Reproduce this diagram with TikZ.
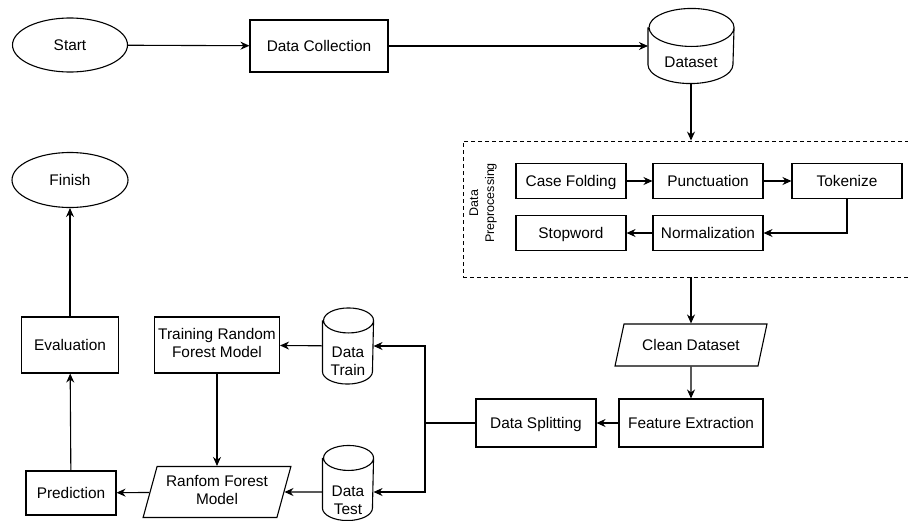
\documentclass[tikz,border=0pt]{standalone}
\usepackage{fontspec}
\setmainfont{Liberation Sans}
\usepackage{tikz}
\usetikzlibrary{shapes.geometric,arrows.meta,positioning,calc,fit}
\newcommand{\fcstrut}{\rule[-3.5pt]{0pt}{18pt}}
\tikzset{
  fc_node/.style = {align=center, inner sep=0pt, text centered, draw=black,
    line width=1.1pt, font=\fontsize{15.4}{18}\selectfont,
    execute at begin node=\fcstrut, execute at end node=\fcstrut},% base of every node
  fc_box/.style = {fc_node, rectangle},% process step
  fc_term/.style = {fc_node, ellipse},% start and finish
  fc_db/.style = {fc_node, rectangle, draw=none,
    execute at begin node={}, execute at end node={}},% data store, outline by \dbshape
  fc_io/.style = {fc_node, trapezium, trapezium left angle=70,
    trapezium right angle=110, trapezium stretches=true},% data in/out
  fc_group/.style = {draw=black, dash pattern=on 4pt off 3pt, line width=0.9pt},% dashed group
  fc_arr/.style = {-{Stealth[length=9pt,width=8pt]}, line width=1.1pt}
}
% text of a data store sits low, in the body below the top cap
\newcommand{\dbtext}[2]{\raisebox{#1}[0pt][0pt]{\begin{tabular}{@{}c@{}}#2\end{tabular}}}
% cylinder outline round a data store node: #1 node, #2 half width, #3 cap half height
\newcommand{\dbshape}[3]{%
  \draw[line width=1.1pt] ([yshift=-#3]#1.north west) -- ([yshift=#3]#1.south west)
    arc[start angle=180, end angle=360, x radius=#2, y radius=#3]
    -- ([yshift=-#3]#1.north east)
    arc[start angle=0, end angle=180, x radius=#2, y radius=#3]
    arc[start angle=180, end angle=360, x radius=#2, y radius=#3];}

\begin{document}
\begin{tikzpicture}[x=1pt, y=-1pt]
\useasboundingbox (0,0) rectangle (908,520);

% top row
\node[fc_term, minimum width=115pt, minimum height=54pt] (start) at (70,45) {Start};
\node[fc_box, minimum width=138pt, minimum height=52pt] (collect) at (319,46) {Data Collection};
\node[fc_db, minimum width=85pt, minimum height=74pt] (dataset) at (691,46) {\dbtext{-16pt}{Dataset}};
\dbshape{dataset}{42.5pt}{19pt}

% preprocessing group
\node[fc_group, minimum width=449pt, minimum height=136pt] (prep) at (687.5,209) {};
\node[rotate=90, align=center, font=\fontsize{12.5}{16}\selectfont] (preplbl) at (483,203) {Data\\Preprocessing};
\node[fc_box, minimum width=110pt, minimum height=35pt] (case) at (571,181) {Case Folding};
\node[fc_box, minimum width=110pt, minimum height=35pt] (punct) at (708,181) {Punctuation};
\node[fc_box, minimum width=110pt, minimum height=35pt] (token) at (847,181) {Tokenize};
\node[fc_box, minimum width=110pt, minimum height=35pt] (norm) at (708,233) {Normalization};
\node[fc_box, minimum width=110pt, minimum height=35pt] (stop) at (571,233) {Stopword};

% right column and bottom row
\node[fc_io, minimum width=152pt, minimum height=42pt] (clean) at (691,345) {Clean Dataset};
\node[fc_box, minimum width=144pt, minimum height=48pt] (feature) at (691,423) {Feature Extraction};
\node[fc_box, minimum width=120pt, minimum height=48pt] (split) at (536,423) {Data Splitting};
\coordinate (fork) at (425,423);
\node[fc_db, minimum width=50pt, minimum height=75pt] (dtrain) at (348,346) {\dbtext{-15pt}{Data\\Train}};
\dbshape{dtrain}{25pt}{12.5pt}
\node[fc_db, minimum width=50pt, minimum height=74pt] (dtest) at (348,483) {\dbtext{-17pt}{Data\\Test}};
\dbshape{dtest}{25pt}{12.5pt}
\node[fc_box, minimum width=125pt, minimum height=56pt] (training) at (217,345) {Training Random\\Forest Model};
\node[fc_io, minimum width=148pt, minimum height=51pt] (ranfom) at (217,492) {Ranfom Forest\\Model};
\node[fc_box, minimum width=90pt, minimum height=44pt] (predict) at (71,493) {Prediction};
\node[fc_box, minimum width=97pt, minimum height=56pt] (evalu) at (70,345) {Evaluation};
\node[fc_term, minimum width=116pt, minimum height=55pt] (finish) at (70,180) {Finish};

% connectors
\draw[fc_arr] (start) -- (collect);
\draw[fc_arr] (collect) -- (dataset);
\draw[fc_arr] (dataset.south) -- (dataset.south |- prep.north);
\draw[fc_arr] (case) -- (punct);
\draw[fc_arr] (punct) -- (token);
\draw[fc_arr] (token.south) |- (norm.east);
\draw[fc_arr] (norm) -- (stop);
\draw[fc_arr] (clean.north |- prep.south) -- (clean.north);
\draw[fc_arr] (clean) -- (feature);
\draw[fc_arr] (feature) -- (split);
\draw[line width=1.1pt] (split.west) -- (fork);
\draw[fc_arr] (fork) |- (dtrain.east);
\draw[fc_arr] (fork) |- ([yshift=-9pt]dtest.east);
\draw[fc_arr] (dtrain) -- (training);
\draw[fc_arr] ([yshift=-9pt]dtest.west) -- (ranfom.east);
\draw[fc_arr] (training) -- (ranfom);
\draw[fc_arr] (ranfom) -- (predict);
\draw[fc_arr] (predict) -- (evalu);
\draw[fc_arr] (evalu) -- (finish);
\end{tikzpicture}
\end{document}
